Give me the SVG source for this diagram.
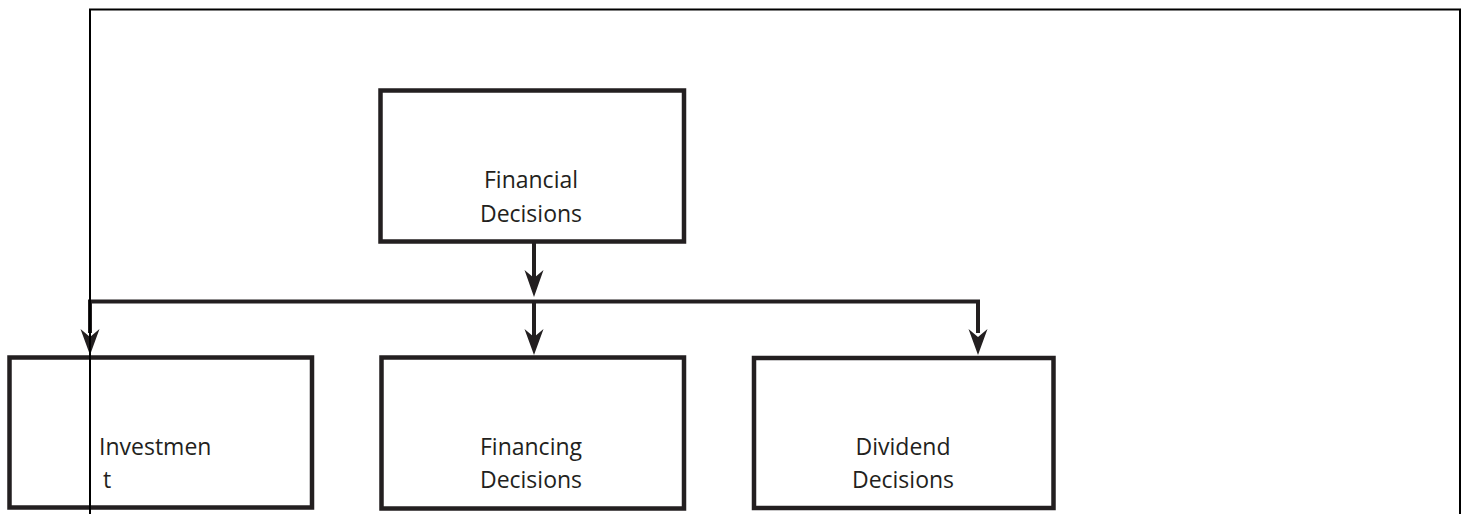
<svg xmlns="http://www.w3.org/2000/svg" width="1462" height="514" viewBox="0 0 1462 514">
<style>
.box{fill:#fff;stroke:#231f20;stroke-width:4.5}
.lbl{font-family:"Open Sans","Liberation Sans",sans-serif;font-size:23px;fill:#231f20;text-anchor:middle}
.conn{fill:none;stroke:#231f20;stroke-width:4}
.head{fill:#231f20;stroke:none}
.frame{fill:none;stroke:#000;stroke-width:2}
</style>
<rect width="1462" height="514" fill="#fff"/>
<g id="top-node">
<rect class="box" x="380.5" y="90.5" width="303.5" height="151"/>
<text class="lbl" x="531" y="188">Financial</text>
<text class="lbl" x="531" y="222">Decisions</text>
</g>
<g id="investment-node">
<rect class="box" x="9.5" y="357.5" width="302.5" height="150"/>
<text class="lbl" x="99" y="455" style="text-anchor:start">Investmen</text>
<text class="lbl" x="103" y="488" style="text-anchor:start">t</text>
</g>
<g id="financing-node">
<rect class="box" x="381.5" y="357.5" width="302.5" height="151"/>
<text class="lbl" x="531" y="455">Financing</text>
<text class="lbl" x="531" y="488">Decisions</text>
</g>
<g id="dividend-node">
<rect class="box" x="754" y="358" width="299.5" height="150"/>
<text class="lbl" x="903" y="455">Dividend</text>
<text class="lbl" x="903" y="488">Decisions</text>
</g>
<g id="connectors">
<path class="conn" d="M534 243 V285"/>
<path class="conn" d="M90 333 V301.5 H978 V333"/>
<path class="conn" d="M534 301.5 V340"/>
<path class="head" d="M534 297 L524.5 270 L534 278 L543.5 270 Z"/>
<path class="head" d="M534 355 L524.5 329 L534 337 L543.5 329 Z"/>
<path class="head" d="M90 355 L80.5 329 L90 337 L99.5 329 Z"/>
<path class="head" d="M978 355 L968.5 329 L978 337 L987.5 329 Z"/>
</g>
<g id="frame">
<path class="frame" d="M90 514 V9.5 H1460 V514"/>
</g>
</svg>
